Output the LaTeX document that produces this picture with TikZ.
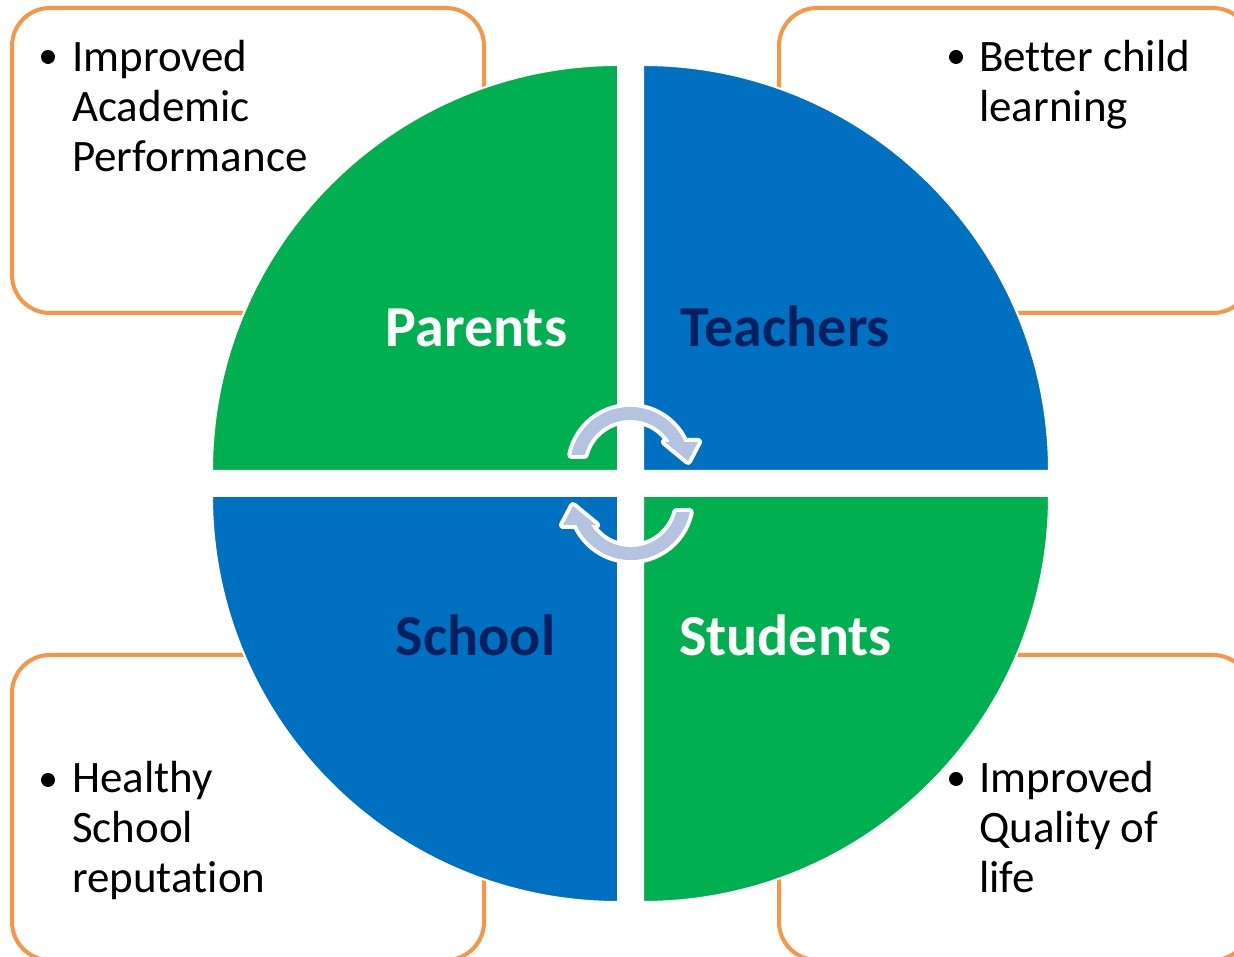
\documentclass[tikz,border=0pt]{standalone}
\usepackage{fontspec}
\setmainfont[Ligatures=NoCommon]{Carlito}
\definecolor{pgreen}{HTML}{00B050}
\definecolor{pblue}{HTML}{0070C0}
\definecolor{pnavy}{HTML}{002060}
\definecolor{porange}{HTML}{F79646}
\definecolor{parrow}{HTML}{B4C3DF}
\begin{document}
\begin{tikzpicture}[x=1pt,y=1pt,
  quad/.style={draw=white, line width=2pt},
  infobox/.style={draw=porange, line width=4pt, rounded corners=38pt},
  quadlabel/.style={font=\fontsize{58}{68}\selectfont\bfseries, inner sep=0pt, anchor=base},
  bullettext/.style={font=\fontsize{45}{50}\selectfont, inner sep=0pt, anchor=base west},
  dot/.style={fill=black},
  cyc/.style={fill=parrow, preaction={draw=white, line width=8pt, line join=round}}]
\useasboundingbox (0,0) rectangle (1234,957);
\clip (0,0) rectangle (1234,957);
\fill[white] (0,0) rectangle (1234,957);
% orange boxes
\draw[infobox] (12,949) rectangle (484,644);
\draw[infobox] (779,949) rectangle (1251,644);
\draw[infobox] (12,302) rectangle (484,-3);
\draw[infobox] (779,302) rectangle (1251,-3);
% quadrants
\path[quad, fill=pgreen] (618,486) -- (618,892) arc[start angle=90, end angle=180, radius=406] -- cycle;
\path[quad, fill=pblue] (643,486) -- (1049,486) arc[start angle=0, end angle=90, radius=406] -- cycle;
\path[quad, fill=pblue] (618,461) -- (212,461) arc[start angle=180, end angle=270, radius=406] -- cycle;
\path[quad, fill=pgreen] (643,461) -- (643,55) arc[start angle=270, end angle=360, radius=406] -- cycle;
% cycle arrows
\path[cyc] (571.2,502) arc[start angle=168.5, end angle=24.6, radius=60] -- (698,515) -- (688,496) -- (665,515) -- (670,515) arc[start angle=32, end angle=165.2, radius=47] -- cycle;
\begin{scope}[rotate around={180:(630.5,473.5)}]
\path[cyc] (571.2,502) arc[start angle=168.5, end angle=24.6, radius=60] -- (698,515) -- (688,496) -- (665,515) -- (670,515) arc[start angle=32, end angle=165.2, radius=47] -- cycle;
\end{scope}
% labels
\node[quadlabel, text=white] (parents) at (476.5,610) {Parents};
\node[quadlabel, text=pnavy] (teachers) at (785.5,610) {Teachers};
\node[quadlabel, text=pnavy] (school) at (475.5,301) {School};
\node[quadlabel, text=white] (students) at (785.5,301) {Students};
% bullet texts
\fill[dot] (48,900) circle (7);
\node[bullettext] (tl) at (72,885) {\begin{tabular}[t]{@{}l@{}}Improved\\Academic\\Performance\end{tabular}};
\fill[dot] (956,900) circle (7);
\node[bullettext] (tr) at (979,885) {\begin{tabular}[t]{@{}l@{}}Better child\\learning\end{tabular}};
\fill[dot] (48,177) circle (7);
\node[bullettext] (bl) at (72,164) {\begin{tabular}[t]{@{}l@{}}Healthy\\School\\reputation\end{tabular}};
\fill[dot] (956,178) circle (7);
\node[bullettext] (br) at (979,164) {\begin{tabular}[t]{@{}l@{}}Improved\\Quality of\\life\end{tabular}};
\end{tikzpicture}
\end{document}
